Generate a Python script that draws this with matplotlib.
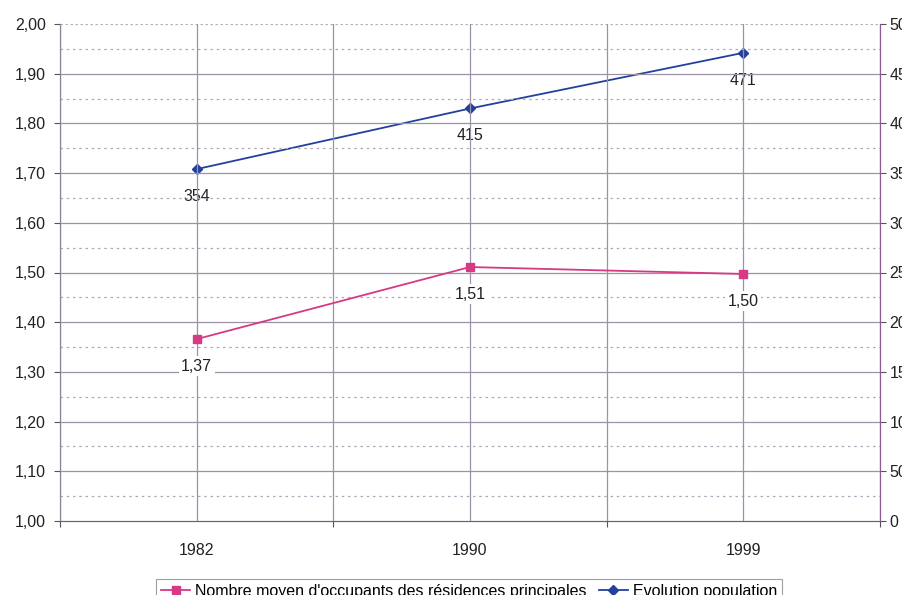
import matplotlib
matplotlib.use('Agg')
import matplotlib.pyplot as plt
import numpy as np

# Données
annees = ['1982', '1990', '1999']
occupants = [1.366, 1.511, 1.497]
population = [354, 415, 471]

plt.rcParams['font.family'] = ['Liberation Sans', 'DejaVu Sans']
fs = 11.5

x = np.arange(len(annees))

fig = plt.figure(figsize=(9.03, 5.95), dpi=100)
ax = fig.add_axes([60 / 903, 74 / 595, 820 / 903, 497 / 595])
ax2 = ax.twinx()

# Grille
grid_col = '#9c92a6'
for v in np.arange(1.05, 2.0, 0.1):
    ax.axhline(v, color='#b0a8b8', linewidth=0.9, linestyle=(0, (2, 3)), zorder=0)
for v in np.arange(1.1, 2.0, 0.1):
    ax.axhline(v, color=grid_col, linewidth=0.9, zorder=0)
ax.axhline(2.0, color='#b8b0c0', linewidth=0.9, linestyle=(0, (2, 2)), zorder=0)
for v in np.arange(-0.5, 2.6, 0.5):
    ax.axvline(v, color=grid_col, linewidth=0.9, zorder=0)

pink = '#d63a84'
blue = '#23419c'

l1, = ax.plot(x, occupants, color=pink, linewidth=1.3, marker='s', markersize=6,
              label="Nombre moyen d'occupants des résidences principales", zorder=3)
l2, = ax2.plot(x, population, color=blue, linewidth=1.3, marker='D', markersize=5,
               label='Evolution population', zorder=3)

box = dict(boxstyle='square,pad=0.15', facecolor='white', edgecolor='none')
for xi, v in zip(x, occupants):
    ax.annotate(f'{v:.2f}'.replace('.', ','), (xi, v), xytext=(0, -25),
                textcoords='offset points', ha='center', va='bottom', fontsize=fs,
                color='#222222', bbox=box, zorder=4)
for xi, v in zip(x, population):
    ax2.annotate(str(v), (xi, v), xytext=(0, -25),
                 textcoords='offset points', ha='center', va='bottom', fontsize=fs,
                 color='#222222', bbox=box, zorder=4)

ax.set_xlim(-0.5, 2.5)
ax.set_ylim(1.0, 2.0)
ax2.set_ylim(0, 500)

ax.set_xticks([-0.5, 0.5, 1.5, 2.5])
ax.set_xticklabels([])
ax.set_xticks(x, minor=True)
ax.set_xticklabels(annees, minor=True, fontsize=fs, color='#222222')
ax.tick_params(axis='x', which='minor', length=0, pad=16)
ax.tick_params(axis='x', which='major', length=4, color='#555555', direction='out')

yt = np.arange(1.0, 2.01, 0.1)
ax.set_yticks(yt)
ax.set_yticklabels([f'{v:.2f}'.replace('.', ',') for v in yt], fontsize=fs, color='#222222')
ax.tick_params(axis='y', length=4, color='#555555', pad=6)

ax2.set_yticks(np.arange(0, 501, 50))
ax2.set_yticklabels([str(v) for v in range(0, 501, 50)], fontsize=fs, color='#222222')
ax2.tick_params(axis='y', length=4, color='#555555', pad=3)

for a in (ax, ax2):
    a.spines['top'].set_visible(False)
    a.spines['left'].set_color('#8a8494')
    a.spines['bottom'].set_color('#6a6470')
    a.spines['right'].set_color('#8a5a9a')

ax.set_zorder(ax2.get_zorder() + 1)
ax.patch.set_visible(False)

leg = fig.legend(handles=[l1, l2], loc='upper center', bbox_to_anchor=(469 / 903, 0.04),
                 ncol=2, fontsize=fs, frameon=True, fancybox=False, handlelength=1.8,
                 handletextpad=0.3, columnspacing=0.8, borderpad=0.3)
leg.get_frame().set_edgecolor('#888888')
leg.get_frame().set_linewidth(0.8)

plt.savefig('out.png', dpi=100)
plt.close()
